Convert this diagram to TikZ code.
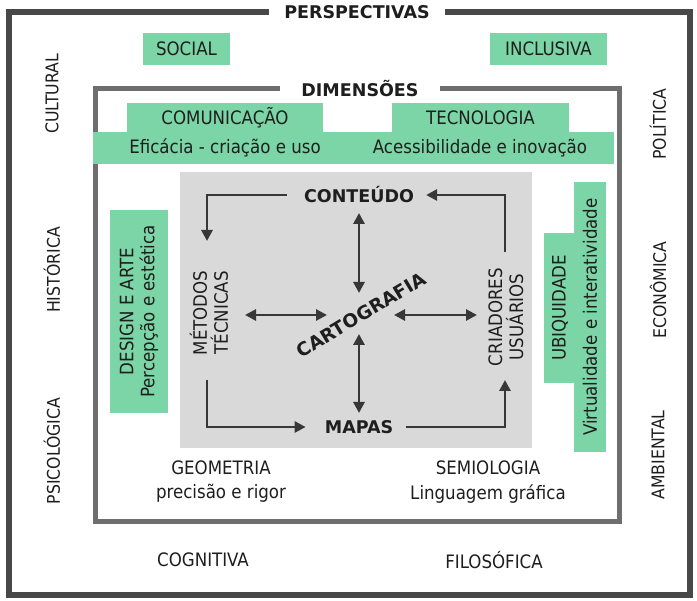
\documentclass[tikz,border=0pt]{standalone}
\usepackage{fontspec}
\setmainfont{DejaVu Sans Condensed}[BoldFont={DejaVu Sans Bold}]
\usetikzlibrary{arrows.meta}
\definecolor{grn}{RGB}{124,213,166}
\definecolor{frameO}{RGB}{72,72,72}
\definecolor{frameI}{RGB}{110,110,110}
\definecolor{grayb}{RGB}{217,217,217}
\definecolor{arrc}{RGB}{55,55,55}
\definecolor{txt}{RGB}{30,30,30}
\begin{document}
\begin{tikzpicture}[x=1pt,y=-1pt,
  every node/.style={text=txt, inner sep=0pt, font=\fontsize{18.5}{21}\selectfont},
  boldtxt/.style={font=\fontsize{17.5}{20}\selectfont\bfseries},
  sidetxt/.style={rotate=90, font=\fontsize{17.5}{20}\selectfont},
  vert/.style={rotate=90, align=center},
  gbox/.style={fill=grn, draw=none},
  arr/.style={draw=arrc, line width=2.8pt, -{Triangle[length=11pt,width=11pt]}},
  darr/.style={draw=arrc, line width=2.8pt, {Triangle[length=11pt,width=11pt]}-{Triangle[length=11pt,width=11pt]}},
]
\useasboundingbox (0,0) rectangle (697,601);
\fill[white] (0,0) rectangle (697,601);

% outer frame
\node[boldtxt, inner xsep=15pt] (persp) at (357,12) {PERSPECTIVAS};
\draw[frameO, line width=6pt] (persp.west) -- (9,12) -- (9,595) -- (690,595) -- (690,12) -- (persp.east);

\node[gbox, minimum width=87pt, minimum height=32pt] (social) at (186.5,49) {SOCIAL};
\node[gbox, minimum width=117pt, minimum height=32pt] (inclusiva) at (548.5,49) {INCLUSIVA};

% inner frame
\node[boldtxt, inner xsep=21pt] (dim) at (360,89) {DIMENSÕES};
\draw[frameI, line width=5pt] (dim.west) -- (95,89) -- (95,522) -- (619,522) -- (619,89) -- (dim.east);

% top green boxes
\node[gbox, minimum width=196pt, minimum height=30pt] (com) at (225,118) {COMUNICAÇÃO};
\node[gbox, minimum width=177pt, minimum height=30pt] (tec) at (480.5,118) {TECNOLOGIA};
\node[gbox, minimum width=521pt, minimum height=32pt] (band) at (353.5,148) {};
\node (efic) at (225,148) {Eficácia - criação e uso};
\node (acess) at (480,148) {Acessibilidade e inovação};

% core
\node[fill=grayb, minimum width=352pt, minimum height=276pt] (core) at (356,310) {};

% side green boxes
\node[gbox, vert, minimum width=203pt, minimum height=58pt] (design) at (139,311.5) {DESIGN E ARTE\\Percepção e estética};
\node[gbox, vert, minimum width=270pt, minimum height=32pt] (virt) at (590,317) {Virtualidade e interatividade};
\node[gbox, vert, minimum width=150pt, minimum height=33pt] (ubiq) at (560,308) {UBIQUIDADE};

% core nodes
\node[boldtxt] (cont) at (359,195) {CONTEÚDO};
\node[boldtxt] (mapas) at (359,427) {MAPAS};
\node[font=\fontsize{18.5}{20}\selectfont\bfseries, rotate=31] (carto) at (361,315) {CARTOGRAFIA};
\node[vert] (met) at (209,313) {MÉTODOS\\TÉCNICAS};
\node[vert] (cri) at (506,317) {CRIADORES\\USUÁRIOS};

\coordinate (mtop) at (207,241);
\coordinate (mbot) at (207,380);
\coordinate (ctop) at (505,252);
\coordinate (cbot) at (505,380);
\draw[arr] ([xshift=-17pt]cont.west) -| (mtop);
\draw[arr] (ctop) |- ([xshift=12pt]cont.east);
\draw[arr] (mbot) |- ([xshift=-19pt]mapas.west);
\draw[arr] ([xshift=13pt]mapas.east) -| (cbot);

\coordinate (v1a) at (359,213);
\coordinate (v1b) at (359,293);
\coordinate (v2a) at (359,334);
\coordinate (v2b) at (359,413);
\coordinate (h1a) at (245,315);
\coordinate (h1b) at (327,315);
\coordinate (h2a) at (394,315);
\coordinate (h2b) at (477,315);
\draw[darr] (v1a) -- (v1b);
\draw[darr] (v2a) -- (v2b);
\draw[darr] (h1a) -- (h1b);
\draw[darr] (h2a) -- (h2b);

% side labels
\node[sidetxt] (cult) at (52,94) {CULTURAL};
\node[sidetxt] (hist) at (52,270) {HISTÓRICA};
\node[sidetxt] (psic) at (52,451) {PSICOLÓGICA};
\node[sidetxt] (pol) at (658,124) {POLÍTICA};
\node[sidetxt] (econ) at (658,290) {ECONÔMICA};
\node[sidetxt] (amb) at (658,455) {AMBIENTAL};

% bottom texts
\node (geo) at (221,468) {GEOMETRIA};
\node (geo2) at (221,493) {precisão e rigor};
\node (sem) at (488,468) {SEMIOLOGIA};
\node (sem2) at (488,494) {Linguagem gráfica};
\node (cog) at (203,560) {COGNITIVA};
\node (fil) at (494,560) {FILOSÓFICA};
\end{tikzpicture}
\end{document}
